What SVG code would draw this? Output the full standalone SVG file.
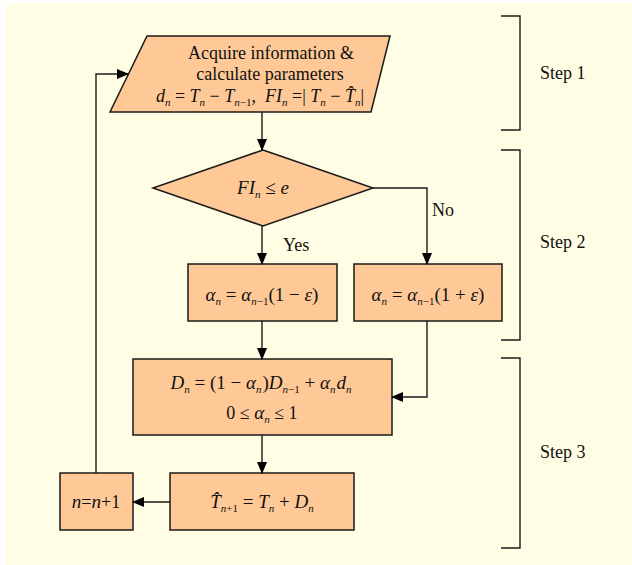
<svg xmlns="http://www.w3.org/2000/svg" width="632" height="565" viewBox="0 0 632 565">
<defs>
<marker id="ah" markerWidth="12" markerHeight="10" refX="11" refY="5" orient="auto" markerUnits="userSpaceOnUse">
<path d="M0,0 L12,5 L0,10 Z" fill="#000"/>
</marker>
<style>
.node{fill:#FFC997;stroke:#1a1a1a;stroke-width:1.5}
.conn{fill:none;stroke:#1a1a1a;stroke-width:1.4;marker-end:url(#ah)}
.br{fill:none;stroke:#1a1a1a;stroke-width:1.4}
text{font-family:"Liberation Serif","Times New Roman",serif;font-size:18px;fill:#111}
.m{font-style:italic;font-size:19px}
.s{font-size:11px;font-style:italic}
.sn{font-size:11px;font-style:normal}
.up{font-style:normal}
</style>
</defs>
<rect x="6" y="3" width="626" height="562" fill="#FFFDE4"/>
<g id="acquire">
<polygon class="node" points="147,36 390,36 371,112 110,112"/>
<text x="271" y="59" text-anchor="middle">Acquire information &amp;</text>
<text x="270" y="80" text-anchor="middle">calculate parameters</text>
<text x="260" y="102" text-anchor="middle" class="m" style="font-size:18px">d<tspan class="s" dy="4">n</tspan><tspan class="up" dy="-4"> = </tspan>T<tspan class="s" dy="4">n</tspan><tspan class="up" dy="-4"> − </tspan>T<tspan class="s" dy="4">n</tspan><tspan class="sn">−1</tspan><tspan class="up" dy="-4">,</tspan><tspan dx="9">FI</tspan><tspan class="s" dy="4">n</tspan><tspan class="up" dy="-4"> =| </tspan>T<tspan class="s" dy="4">n</tspan><tspan class="up" dy="-4"> − </tspan>T̂<tspan class="s" dy="4">n</tspan><tspan class="up" dy="-4">|</tspan></text>
</g>
<g id="decision">
<polygon class="node" points="263,150 373,188 263,226 153,188"/>
<text x="263" y="194" text-anchor="middle" class="m">FI<tspan class="s" dy="4">n</tspan><tspan class="up" dy="-4"> ≤ </tspan>e</text>
</g>
<g id="alpha-dec">
<rect class="node" x="188" y="264" width="149" height="57"/>
<text x="262" y="301" text-anchor="middle" class="m">α<tspan class="s" dy="4">n</tspan><tspan class="up" dy="-4"> = </tspan>α<tspan class="s" dy="4">n</tspan><tspan class="sn">−1</tspan><tspan class="up" dy="-4">(1 − </tspan>ε<tspan class="up">)</tspan></text>
</g>
<g id="alpha-inc">
<rect class="node" x="354" y="264" width="148" height="57"/>
<text x="428" y="301" text-anchor="middle" class="m">α<tspan class="s" dy="4">n</tspan><tspan class="up" dy="-4"> = </tspan>α<tspan class="s" dy="4">n</tspan><tspan class="sn">−1</tspan><tspan class="up" dy="-4">(1 + </tspan>ε<tspan class="up">)</tspan></text>
</g>
<g id="dn">
<rect class="node" x="133" y="359" width="259" height="76"/>
<text x="261" y="389" text-anchor="middle" class="m">D<tspan class="s" dy="4">n</tspan><tspan class="up" dy="-4"> = (1 − </tspan>α<tspan class="s" dy="4">n</tspan><tspan class="up" dy="-4" dx="1">)</tspan>D<tspan class="s" dy="4">n</tspan><tspan class="sn">−1</tspan><tspan class="up" dy="-4"> + </tspan>α<tspan class="s" dy="4">n</tspan><tspan dy="-4" dx="1">d</tspan><tspan class="s" dy="4">n</tspan></text>
<text x="262" y="419" text-anchor="middle"><tspan>0 ≤ </tspan><tspan class="m">α</tspan><tspan class="s" dy="4">n</tspan><tspan dy="-4"> ≤ 1</tspan></text>
</g>
<g id="predict">
<rect class="node" x="170" y="473" width="184" height="57"/>
<text x="262" y="508" text-anchor="middle" class="m">T̂<tspan class="s" dy="4">n</tspan><tspan class="sn">+1</tspan><tspan class="up" dy="-4"> = </tspan>T<tspan class="s" dy="4">n</tspan><tspan class="up" dy="-4"> + </tspan>D<tspan class="s" dy="4">n</tspan></text>
</g>
<g id="increment">
<rect class="node" x="60" y="473" width="73" height="57"/>
<text x="96" y="508" text-anchor="middle"><tspan class="m">n</tspan>=<tspan class="m">n</tspan>+1</text>
</g>
<g id="connectors">
<path class="conn" d="M262,112 V150"/>
<path class="conn" d="M262,226 V264"/>
<path class="conn" d="M373,188 H427 V264"/>
<path class="conn" d="M262,321 V359"/>
<path class="conn" d="M427,321 V397 H392"/>
<path class="conn" d="M262,435 V473"/>
<path class="conn" d="M170,502 H133"/>
<path class="conn" d="M96,473 V74 H128"/>
<text x="283" y="251">Yes</text>
<text x="432" y="216">No</text>
</g>
<g id="steps">
<path class="br" d="M501,16 H520 V130 H501"/>
<path class="br" d="M501,150 H520 V340 H501"/>
<path class="br" d="M501,358 H520 V548 H501"/>
<text x="540" y="79">Step 1</text>
<text x="540" y="248">Step 2</text>
<text x="540" y="458">Step 3</text>
</g>
</svg>
